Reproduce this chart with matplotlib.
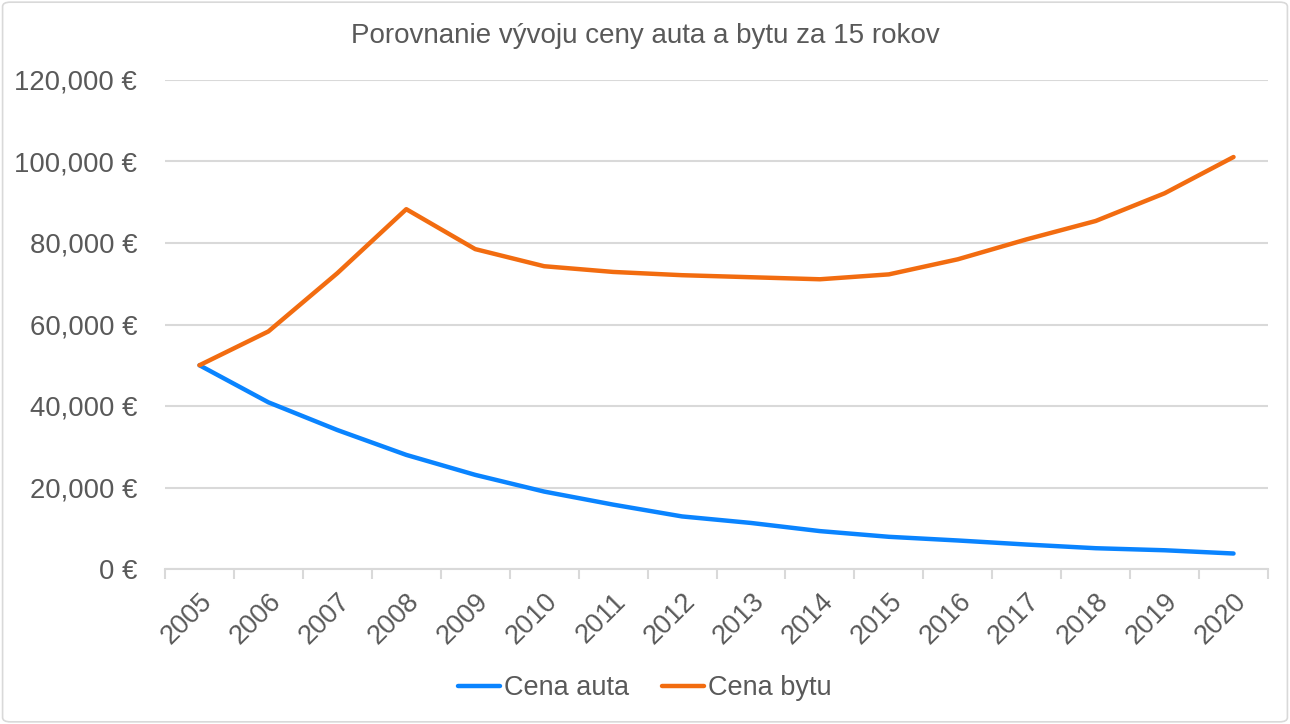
import matplotlib
matplotlib.use("Agg")
import matplotlib.pyplot as plt
from matplotlib.patches import FancyBboxPatch
from matplotlib.ticker import FuncFormatter

# data
years = [2005, 2006, 2007, 2008, 2009, 2010, 2011, 2012,
         2013, 2014, 2015, 2016, 2017, 2018, 2019, 2020]
cena_auta = [50000, 40900, 34100, 28000, 23100, 19000, 15800, 12900,
             11300, 9300, 7900, 7000, 6000, 5100, 4600, 3800]
cena_bytu = [50000, 58300, 72600, 88300, 78500, 74300, 72900, 72100,
             71600, 71100, 72300, 76000, 80900, 85400, 92200, 101100]

TEXT = "#595959"
GRID = "#d9d9d9"

plt.rcParams['font.family'] = ['Liberation Sans', 'DejaVu Sans']

fig = plt.figure(figsize=(12.9, 7.24), dpi=100)
ax = fig.add_axes([165 / 1290, 1 - 569 / 724, (1268 - 165) / 1290, (569 - 80) / 724])

x = list(range(len(years)))
ax.plot(x, cena_auta, color="#0a84ff", lw=3.2, solid_capstyle="round",
        solid_joinstyle="round", label="Cena auta", zorder=3)
ax.plot(x, cena_bytu, color="#f26c10", lw=3.2, solid_capstyle="round",
        solid_joinstyle="round", label="Cena bytu", zorder=3)

ax.set_xlim(-0.5, len(years) - 0.5)
ax.set_ylim(0, 120000)
ax.set_yticks(range(0, 120001, 20000))
ax.yaxis.set_major_formatter(FuncFormatter(lambda v, p: f"{int(v):,} €"))
ax.grid(axis="y", color=GRID, lw=1.5, zorder=0)

ax.set_xticks(x)
ax.set_xticklabels([str(y) for y in years], rotation=45, ha="right",
                   rotation_mode="anchor")
ax.set_xticks([i - 0.5 for i in range(len(years) + 1)], minor=True)
ax.tick_params(axis="x", which="major", length=0, pad=14,
               labelsize=19.5, labelcolor=TEXT)
ax.tick_params(axis="x", which="minor", length=7, width=1.5, color=GRID)
ax.tick_params(axis="y", length=0, pad=20, labelsize=19.8, labelcolor=TEXT)

for s in ["top", "right", "left"]:
    ax.spines[s].set_visible(False)
ax.spines["bottom"].set_color(GRID)
ax.spines["bottom"].set_linewidth(1.5)

fig.text(0.5, 1 - 36 / 724, "Porovnanie vývoju ceny auta a bytu za 15 rokov",
         ha="center", va="center", fontsize=20, color=TEXT)

leg = fig.legend(loc="center", bbox_to_anchor=(0.5, 1 - 688 / 724), ncol=2,
                 frameon=False, fontsize=19.5, handlelength=1.55,
                 columnspacing=1.2, handletextpad=0.15)
for t in leg.get_texts():
    t.set_color(TEXT)

border = FancyBboxPatch((0.002, 0.003), 0.996, 0.994,
                        boxstyle="round,pad=0,rounding_size=0.006",
                        transform=fig.transFigure, fill=False,
                        edgecolor=GRID, lw=1.2)
fig.patches.append(border)

fig.savefig("out.png", dpi=100)
